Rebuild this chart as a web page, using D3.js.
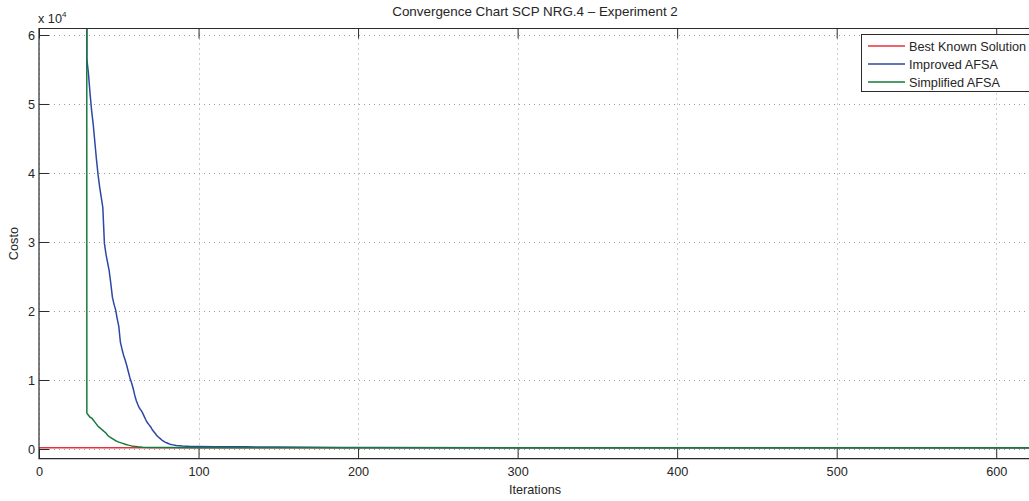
<!DOCTYPE html>
<html>
<head>
<meta charset="utf-8">
<script src="https://cdn.jsdelivr.net/npm/d3@7"></script>
<style>
  html, body { margin: 0; padding: 0; background: #fff; overflow: hidden; }
  svg { display: block; font-family: "Liberation Sans", Arial, Helvetica, sans-serif; }
</style>
</head>
<body>
<script>
// Convergence data (cost per iteration)
const bestIter = [0, 622];
const bestCost = [176, 176];

const improvedIter = [29, 30, 31, 32, 33, 34, 35, 36, 37, 38, 39, 40, 41, 42, 43, 44, 45, 46, 47, 48, 49, 50,
  51, 52, 53, 54, 55, 56, 57, 58, 59, 60, 61, 62, 63, 64, 65, 66, 67, 68, 69, 70, 71, 72, 73, 74, 75, 76, 77,
  78, 79, 80, 81, 82, 84, 86, 90, 95, 100, 110, 130, 150, 170, 190, 210, 622];
const improvedCost = [1000000, 56500, 54400, 51500, 49000, 47000, 44500, 42000, 39800, 38000, 36500, 35000,
  29800, 28200, 27000, 25800, 24000, 22000, 21000, 20200, 18900, 17800, 15500, 14500, 13600, 12900, 12100,
  11200, 10300, 9600, 8800, 7800, 7000, 6400, 5900, 5600, 5200, 4700, 4200, 3800, 3500, 3200, 2800, 2500,
  2200, 1900, 1700, 1500, 1300, 1150, 1000, 900, 800, 700, 600, 500, 420, 380, 350, 330, 310, 290, 250, 210,
  200, 195];

const simplifiedIter = [29, 30, 31, 32, 33, 34, 35, 36, 37, 38, 39, 40, 41, 42, 43, 44, 45, 46, 47, 48, 49, 50,
  52, 54, 56, 58, 60, 62, 65, 70, 80, 100, 622];
const simplifiedCost = [1000000, 5200, 4900, 4600, 4500, 4200, 3900, 3600, 3300, 3100, 2900, 2700, 2500, 2300,
  2000, 1800, 1650, 1500, 1350, 1200, 1100, 1000, 850, 700, 560, 450, 380, 320, 260, 220, 200, 195, 190];

const xTicks = [0, 100, 200, 300, 400, 500, 600];
const yTicks = [0, 10000, 20000, 30000, 40000, 50000, 60000];
const seriesNames = ["Best Known Solution", "Improved AFSA", "Simplified AFSA"];
const seriesColors = ["#e8303a", "#2d47a5", "#177a3a"];

const width = 1029, height = 501;
const plot = { left: 39, top: 28.5, right: 1031, bottom: 458.7 };
const fontSize = "12.7px";

const svg = d3.select("body").append("svg")
  .attr("width", width).attr("height", height);

const x = d3.scaleLinear().domain([0, 621.8]).range([plot.left, plot.right]);
const y = d3.scaleLinear().domain([-1406, 60942]).range([plot.bottom, plot.top]);

const tickLen = 10;
const axisColor = "#2b2b2b";
const textColor = "#262626";

// grid
const grid = svg.append("g").attr("stroke", "#9a9a9a").attr("stroke-width", 1)
  .attr("stroke-dasharray", "1,4");
grid.selectAll("line.gx").data(xTicks).join("line")
  .attr("x1", d => Math.round(x(d)) + 0.5).attr("x2", d => Math.round(x(d)) + 0.5)
  .attr("y1", plot.top).attr("y2", plot.bottom);
grid.selectAll("line.gy").data(yTicks).join("line")
  .attr("y1", d => Math.round(y(d)) + 0.5).attr("y2", d => Math.round(y(d)) + 0.5)
  .attr("x1", plot.left).attr("x2", plot.right);

// data lines
svg.append("clipPath").attr("id", "plotClip").append("rect")
  .attr("x", plot.left).attr("y", plot.top)
  .attr("width", plot.right - plot.left).attr("height", plot.bottom - plot.top);

const line = d3.line().x(d => x(d[0])).y(d => y(d[1]));
const series = [
  d3.zip(bestIter, bestCost),
  d3.zip(improvedIter, improvedCost),
  d3.zip(simplifiedIter, simplifiedCost)
];
svg.append("g").attr("clip-path", "url(#plotClip)")
  .selectAll("path").data(series).join("path")
  .attr("d", line)
  .attr("fill", "none")
  .attr("stroke", (d, i) => seriesColors[i])
  .attr("stroke-width", 1.5)
  .attr("stroke-linejoin", "round");

// axes (box with inward ticks)
const xBottom = d3.axisBottom(x).tickValues(xTicks).tickSizeInner(-tickLen).tickSizeOuter(0).tickPadding(8);
const xTop = d3.axisTop(x).tickValues(xTicks).tickSizeInner(-tickLen).tickSizeOuter(0).tickFormat("");
const yLeft = d3.axisLeft(y).tickValues(yTicks).tickSizeInner(-tickLen).tickSizeOuter(0).tickPadding(4)
  .tickFormat(d => d / 10000);

function styleAxis(g) {
  g.select(".domain").remove();
  g.selectAll(".tick line").attr("stroke", axisColor).attr("stroke-width", 1);
  g.selectAll(".tick text").attr("fill", textColor)
    .style("font-size", fontSize).style("font-family", "'Liberation Sans', Arial, sans-serif");
}
svg.append("g").attr("transform", `translate(0,${plot.bottom})`).call(xBottom).call(styleAxis);
svg.append("g").attr("transform", `translate(0,${plot.top})`).call(xTop).call(styleAxis);
svg.append("g").attr("transform", `translate(${plot.left},0)`).call(yLeft).call(styleAxis);

// box
svg.append("path")
  .attr("d", `M${plot.right},${plot.top}H${plot.left}V${plot.bottom}H${plot.right}`)
  .attr("fill", "none").attr("stroke", axisColor).attr("stroke-width", 1.2);

// exponent label
const expo = svg.append("text").attr("x", plot.left - 1).attr("y", 23)
  .attr("fill", textColor).style("font-size", fontSize);
expo.append("tspan").text("x 10");
expo.append("tspan").attr("dy", -6).style("font-size", "8px").text("4");

// titles
svg.append("text").attr("x", (plot.left + plot.right) / 2).attr("y", 16)
  .attr("text-anchor", "middle").attr("fill", textColor).style("font-size", "13.4px")
  .text("Convergence Chart SCP NRG.4 \u2013 Experiment 2");
svg.append("text").attr("x", (plot.left + plot.right) / 2).attr("y", 494)
  .attr("text-anchor", "middle").attr("fill", textColor).style("font-size", fontSize)
  .text("Iterations");
svg.append("text")
  .attr("transform", `translate(18,${(plot.top + plot.bottom) / 2}) rotate(-90)`)
  .attr("text-anchor", "middle").attr("fill", textColor).style("font-size", fontSize)
  .text("Costo");

// legend
const legend = svg.append("g");
legend.append("rect").attr("x", 861.5).attr("y", 34.5).attr("width", 200).attr("height", 57)
  .attr("fill", "#fff").attr("stroke", axisColor).attr("stroke-width", 1);
seriesNames.forEach((name, i) => {
  const ly = 46 + i * 18;
  legend.append("line").attr("x1", 868).attr("x2", 905).attr("y1", ly).attr("y2", ly)
    .attr("stroke", seriesColors[i]).attr("stroke-width", 1.5);
  legend.append("text").attr("x", 909).attr("y", ly + 4.5).attr("fill", textColor)
    .style("font-size", fontSize).text(name);
});
</script>
</body>
</html>
